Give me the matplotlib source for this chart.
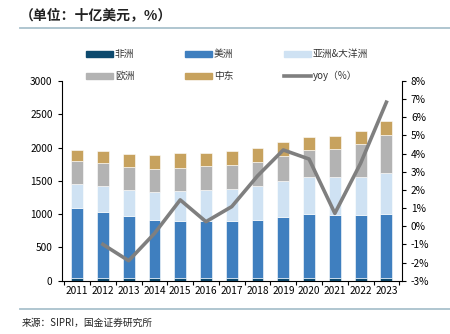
import matplotlib
matplotlib.use("Agg")
import matplotlib.pyplot as plt
from matplotlib.lines import Line2D
from matplotlib.patches import Rectangle
import numpy as np

plt.rcParams['font.family'] = ['Noto Sans CJK SC', 'DejaVu Sans']

years = ["2011", "2012", "2013", "2014", "2015", "2016", "2017", "2018", "2019", "2020", "2021", "2022", "2023"]
africa = [40, 40, 40, 40, 40, 40, 40, 40, 40, 40, 40, 40, 45]
americas = [1050, 995, 930, 875, 855, 855, 855, 875, 920, 960, 950, 940, 960]
asia_oceania = [360, 380, 390, 420, 450, 460, 485, 505, 530, 555, 565, 580, 610]
europe = [350, 350, 350, 350, 355, 370, 355, 365, 390, 405, 420, 495, 570]
middle_east = [160, 176, 190, 200, 215, 195, 210, 215, 200, 195, 195, 190, 210]
yoy = [None, -1.0, -1.9, -0.4, 1.45, 0.25, 1.08, 2.77, 4.2, 3.7, 0.71, 3.47, 6.83]

colors = {
    "非洲": "#0d4a6e",
    "美洲": "#3f7fbf",
    "亚洲&大洋洲": "#cfe2f3",
    "欧洲": "#b3b3b3",
    "中东": "#c7a25e",
}
line_color = "#7f7f7f"

W, H = 450, 334
fig = plt.figure(figsize=(4.5, 3.34), dpi=100)
ax = fig.add_axes([0.137, 0.1596, 0.756, 0.598])

x = np.arange(len(years))
w = 0.46
bottom = np.zeros(len(years))
series = [("非洲", africa), ("美洲", americas), ("亚洲&大洋洲", asia_oceania),
          ("欧洲", europe), ("中东", middle_east)]
for name, vals in series:
    v = np.array(vals, dtype=float)
    ax.bar(x, v, w, bottom=bottom, color=colors[name], edgecolor="white", linewidth=0.4)
    bottom += v

ax.set_ylim(0, 3000)
ax.set_yticks(range(0, 3001, 500))
ax.set_xlim(-0.6, len(years) - 0.4)
ax.set_xticks(x)
ax.set_xticklabels(years)
ax.set_xticks(np.arange(-0.5, len(years), 1.0), minor=True)
ax.tick_params(axis='x', which='major', length=0, labelsize=7.3, pad=4)
ax.tick_params(axis='x', which='minor', length=3, width=0.8, direction='out')
ax.tick_params(axis='y', labelsize=7.3, length=3, width=0.8)
for s in ["top", "right"]:
    ax.spines[s].set_visible(False)
ax.spines["left"].set_linewidth(0.8)
ax.spines["bottom"].set_linewidth(0.8)

ax2 = ax.twinx()
yx = [i for i, v in enumerate(yoy) if v is not None]
yv = [v for v in yoy if v is not None]
ax2.plot(yx, yv, color=line_color, linewidth=2.6)
ax2.set_ylim(-3, 8)
ax2.set_yticks(range(-3, 9))
ax2.set_yticklabels([f"{t}%" for t in range(-3, 9)])
ax2.tick_params(axis='y', labelsize=7.3, length=3, width=0.8)
for s in ["top", "left", "bottom"]:
    ax2.spines[s].set_visible(False)
ax2.spines["right"].set_linewidth(0.8)

# legend drawn manually in a 3x2 grid
labels = ["非洲", "美洲", "亚洲&大洋洲", "欧洲", "中东", "yoy（%）"]
col_x = [86, 185, 284]
row_y = [54, 76]
for i, lab in enumerate(labels):
    px = col_x[i % 3]
    py = row_y[i // 3]
    if lab.startswith("yoy"):
        fig.add_artist(Line2D([px / W, (px + 27) / W], [1 - py / H, 1 - py / H],
                              color=line_color, linewidth=2.6))
    else:
        fig.add_artist(Rectangle((px / W, 1 - (py + 3) / H), 27 / W, 6 / H,
                                 transform=fig.transFigure, color=colors[lab]))
    fig.text((px + 29) / W, 1 - py / H, lab, fontsize=7, ha="left", va="center",
             color="#333333")

fig.text(0.045, 1 - 15 / H, "（单位：十亿美元，%）", fontsize=10, fontweight="bold",
         ha="left", va="center", color="#222222", style="italic")
fig.add_artist(Line2D([20 / W, 1.0], [1 - 28 / H, 1 - 28 / H], color="#a9c1cd", linewidth=1.3))
fig.add_artist(Line2D([20 / W, 1.0], [1 - 309 / H, 1 - 309 / H], color="#a9c1cd", linewidth=1.3))
fig.text(22 / W, 1 - 323 / H, "来源：SIPRI，国金证券研究所", fontsize=7, ha="left", va="center", color="#222222")

fig.savefig("out.png", dpi=100)
